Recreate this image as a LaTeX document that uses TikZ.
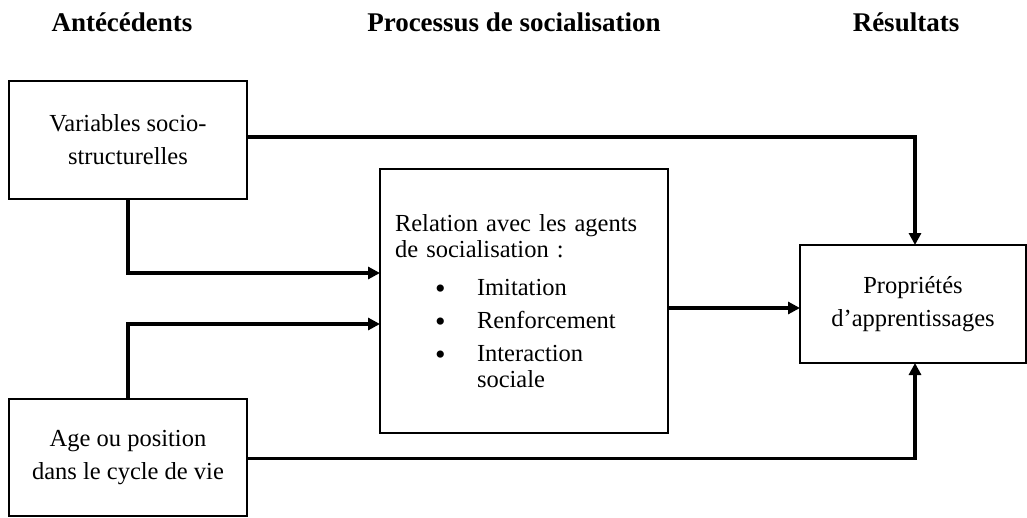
\documentclass[tikz,border=0pt]{standalone}
\usepackage{fontspec}
\setmainfont{Liberation Serif}
\usetikzlibrary{arrows.meta}
\newcommand{\bigbul}{\raisebox{-3pt}{\fontsize{30}{26}\selectfont\textbullet}}
\begin{document}
\begin{tikzpicture}[x=1pt,y=-1pt,
  box/.style={draw=black, line width=1.5pt, inner sep=0pt, outer sep=0pt, align=center,
    font=\fontsize{24.5}{33}\selectfont},
  head/.style={anchor=base, font=\fontsize{27}{30}\selectfont\bfseries},
  conn/.style={line width=3.2pt, -{Triangle[length=12pt,width=12pt]}}]
\useasboundingbox (0,0) rectangle (1027,517);
% headings
\node[head] (h1) at (122,31) {Antécédents};
\node[head] (h2) at (514,31) {Processus de socialisation};
\node[head] (h3) at (906,31) {Résultats};
% boxes
\node[box, minimum width=238pt, minimum height=118pt] (b1) at (128,140) {Variables socio-\\structurelles};
\node[box, minimum width=238pt, minimum height=117pt] (b4) at (128,457.5) {Age ou position\\dans le cycle de vie};
\node[box, minimum width=226pt, minimum height=118pt] (b3) at (913,304) {Propriétés\\d’apprentissages};
\node[box, minimum width=288pt, minimum height=264pt, text width=258pt, align=left,
  font=\fontsize{24.5}{26}\selectfont] (b2) at (524,301) {%
  Relation avec les agents\\
  de socialisation :\\[12pt]
  \hspace*{40pt}\makebox[42pt][l]{\bigbul}Imitation\\[7pt]
  \hspace*{40pt}\makebox[42pt][l]{\bigbul}Renforcement\\[7pt]
  \hspace*{40pt}\makebox[42pt][l]{\bigbul}Interaction\\
  \hspace*{82pt}sociale\\[20pt]};
% connectors
\draw[conn] ([yshift=3pt]b1.east) -| ([xshift=2pt]b3.north);
\draw[conn] (b1.south) |- ([yshift=28pt]b2.west);
\draw[conn] (b4.north) |- ([yshift=-23pt]b2.west);
\draw[conn] ([yshift=-4pt]b3.west -| b2.east) -- ([yshift=-4pt]b3.west);
\draw[conn] ([yshift=-1pt]b4.east) -| ([xshift=2pt]b3.south);
\end{tikzpicture}
\end{document}
